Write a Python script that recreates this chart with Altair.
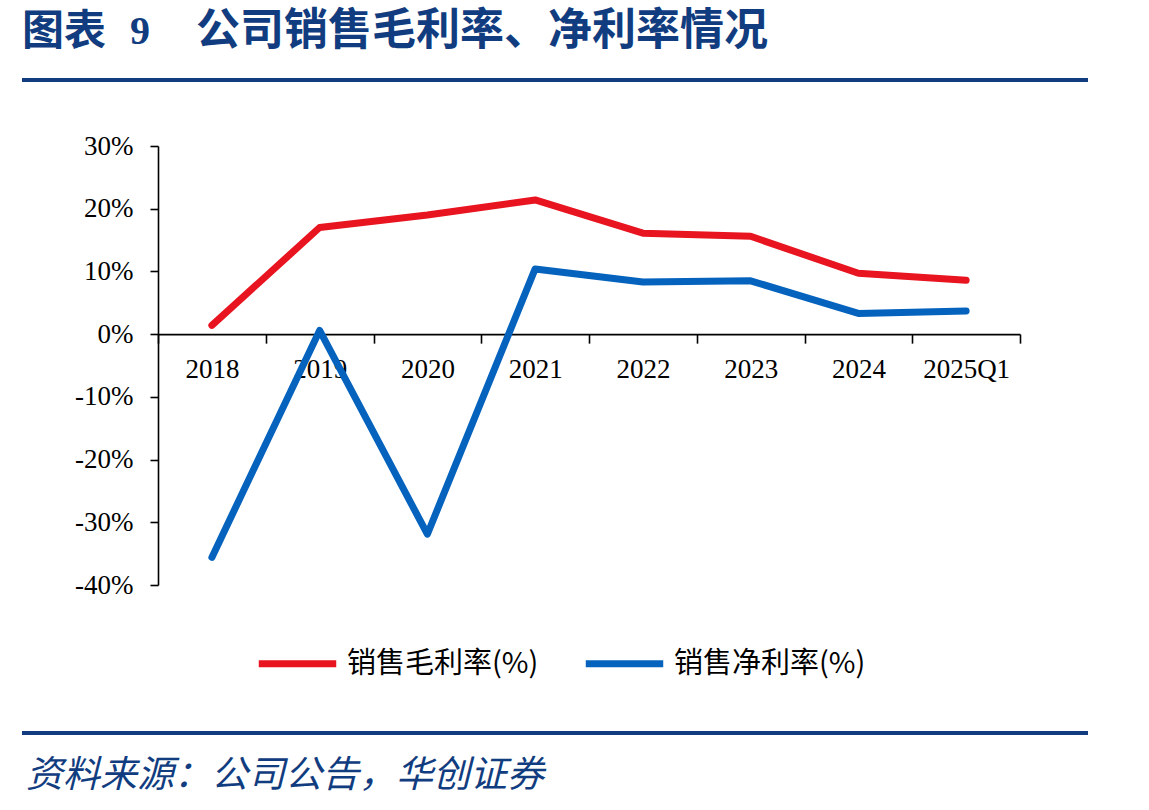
import altair as alt
import pandas as pd

# Periods and margins (%)
periods = ["2018", "2019", "2020", "2021", "2022", "2023", "2024", "2025Q1"]
gross_margin = [1.4, 17.0, 19.0, 21.4, 16.1, 15.6, 9.7, 8.6]
net_margin = [-35.6, 0.6, -31.9, 10.4, 8.3, 8.5, 3.3, 3.7]

series_names = ["销售毛利率(%)", "销售净利率(%)"]
series_colors = ["#E8141F", "#0563BE"]

title_head = "图表"
title_num = "9"
title_body = "公司销售毛利率、净利率情况"
source_text = "资料来源：公司公告，华创证券"

y_ticks = [-40, -30, -20, -10, 0, 10, 20, 30]

# Layout (pixels)
W, H = 862, 439
LEFT, TOP = 158, 146
RIGHT = 1149 - LEFT - W
BOTTOM = 810 - TOP - H
Y_MIN, Y_MAX = -40, 30
zero_offset = -(H * (0 - Y_MIN) / (Y_MAX - Y_MIN))

NAVY = "#113D80"
CJK = "Noto Sans CJK SC"
SERIF = "Liberation Serif"

df = pd.DataFrame(
    {
        "period": periods * 2,
        "value": gross_margin + net_margin,
        "series": [series_names[0]] * len(periods) + [series_names[1]] * len(periods),
    }
)

lines = (
    alt.Chart(df)
    .mark_line(strokeWidth=7, strokeCap="round", strokeJoin="round")
    .encode(
        x=alt.X(
            "period:N",
            sort=periods,
            scale=alt.Scale(type="band", paddingInner=0, paddingOuter=0),
            axis=alt.Axis(
                title=None,
                orient="bottom",
                offset=zero_offset,
                labelAngle=0,
                tickBand="extent",
                tickSize=9,
                labelPadding=13,
                labelFont=SERIF,
                labelFontSize=27,
                labelColor="black",
                domainColor="black",
                domainWidth=1.6,
                tickColor="black",
                tickWidth=1.6,
                grid=False,
            ),
        ),
        y=alt.Y(
            "value:Q",
            scale=alt.Scale(domain=[Y_MIN, Y_MAX], nice=False, zero=False),
            axis=alt.Axis(
                title=None,
                values=y_ticks,
                labelExpr="datum.value + '%'",
                tickSize=8,
                labelPadding=17,
                labelFont=SERIF,
                labelFontSize=27,
                labelColor="black",
                domainColor="black",
                domainWidth=1.6,
                tickColor="black",
                tickWidth=1.6,
                grid=False,
            ),
        ),
        color=alt.Color(
            "series:N",
            scale=alt.Scale(domain=series_names, range=series_colors),
            legend=alt.Legend(
                title=None,
                orient="none",
                direction="horizontal",
                legendX=97,
                legendY=660 - TOP - 39,
                symbolType="stroke",
                symbolSize=6000,
                symbolStrokeWidth=7,
                labelFont=CJK,
                labelFontSize=29,
                labelColor="black",
                labelLimit=400,
                labelOffset=7,
                columnPadding=32,
                padding=0,
            ),
        ),
    )
)

# Header / footer decorations
def rule_at(y):
    return (
        alt.Chart(pd.DataFrame({"k": [0]}))
        .mark_rule(color=NAVY, strokeWidth=4)
        .encode(x=alt.value(22 - LEFT), x2=alt.value(1088 - LEFT), y=alt.value(y - TOP))
    )


def label_at(text, x, y, font, size, weight="normal", style="normal", color=NAVY):
    return (
        alt.Chart(pd.DataFrame({"t": [text]}))
        .mark_text(
            align="left",
            baseline="middle",
            font=font,
            fontSize=size,
            fontWeight=weight,
            fontStyle=style,
            color=color,
            limit=1000,
        )
        .encode(x=alt.value(x - LEFT), y=alt.value(y - TOP), text="t:N")
    )


chart = (
    alt.layer(
        lines,
        rule_at(80),
        rule_at(733),
        label_at(title_head, 22, 32, CJK, 42, weight="bold"),
        label_at(title_num, 130, 32, SERIF, 40, weight="bold"),
        label_at(title_body, 196, 32, CJK, 44, weight="bold"),
        label_at(source_text, 26, 776, CJK, 37, style="italic"),
    )
    .properties(
        width=W,
        height=H,
        autosize=alt.AutoSizeParams(type="none"),
        padding={"left": LEFT, "top": TOP, "right": RIGHT, "bottom": BOTTOM},
        background="white",
    )
    .configure_view(stroke=None)
)

chart.save("out.html", embed_options={"renderer": "svg", "actions": False})
